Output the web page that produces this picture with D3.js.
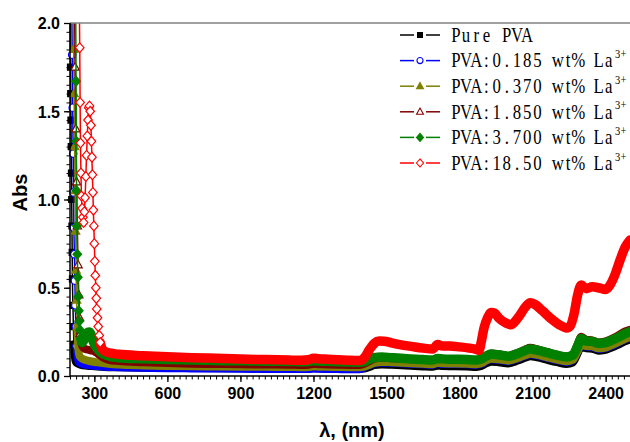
<!DOCTYPE html>
<html>
<head>
<meta charset="utf-8">
<script src="https://cdn.jsdelivr.net/npm/d3@7"></script>
<style>
  body { margin: 0; background: #fff; }
  svg { display: block; }
</style>
</head>
<body>
<svg id="chart" width="630" height="442"></svg>
<script>
// ---- Absorbance spectra of PVA films doped with La3+ ----

// Shared wavelength grid (nm) for the visible / NIR part of the lower spectra
const nirWl = [400, 500, 600, 700, 800, 900, 1000, 1100, 1150, 1180, 1200, 1220, 1260, 1300, 1350, 1390,
  1410, 1430, 1450, 1480, 1520, 1560, 1600, 1650, 1690, 1710, 1730, 1780, 1830, 1870, 1890, 1910,
  1930, 1960, 2000, 2040, 2070, 2090, 2120, 2160, 2200, 2240, 2265, 2285, 2300, 2320, 2345, 2370,
  2395, 2420, 2450, 2480, 2500];

// Pure PVA
const pureUvWl  = [200, 202, 203, 204, 205, 206, 207, 208, 209, 210, 212, 214, 216, 219, 223, 230, 245, 270, 300, 340];
const pureUvAbs = [2.2, 1.75, 1.6, 1.45, 1.3, 1.15, 1.0, 0.85, 0.7, 0.55, 0.4, 0.28, 0.18, 0.11, 0.08, 0.07, 0.062, 0.057, 0.054, 0.05];
const pureNirAbs = [0.048, 0.046, 0.045, 0.044, 0.043, 0.042, 0.041, 0.040, 0.040, 0.040, 0.043, 0.042, 0.041, 0.040, 0.039, 0.039,
  0.041, 0.050, 0.060, 0.064, 0.062, 0.059, 0.056, 0.053, 0.051, 0.057, 0.055, 0.054, 0.052, 0.050, 0.055, 0.070,
  0.080, 0.077, 0.070, 0.086, 0.102, 0.110, 0.104, 0.090, 0.077, 0.067, 0.075, 0.125, 0.165, 0.155, 0.153, 0.142,
  0.145, 0.157, 0.175, 0.195, 0.205];

// PVA : 0.185 wt% La3+
const la0185UvWl  = [207, 209, 211, 213, 214.5, 216, 218, 220, 222, 224, 227, 232, 240, 260, 300, 340];
const la0185UvAbs = [2.2, 1.82, 1.52, 1.26, 1.04, 0.84, 0.69, 0.54, 0.4, 0.28, 0.17, 0.1, 0.075, 0.065, 0.058, 0.053];
const la0185NirAbs = [0.050, 0.047, 0.044, 0.043, 0.042, 0.041, 0.040, 0.039, 0.039, 0.039, 0.042, 0.041, 0.040, 0.039, 0.038, 0.038,
  0.050, 0.061, 0.072, 0.077, 0.075, 0.072, 0.069, 0.066, 0.064, 0.071, 0.069, 0.068, 0.066, 0.064, 0.069, 0.085,
  0.095, 0.092, 0.084, 0.099, 0.115, 0.123, 0.117, 0.103, 0.090, 0.080, 0.089, 0.137, 0.177, 0.167, 0.165, 0.154,
  0.157, 0.169, 0.187, 0.207, 0.219];

// PVA : 0.370 wt% La3+
const la0370UvWl  = [213, 215, 217, 219, 221, 223, 225, 227, 230, 234, 240, 255, 280, 310, 350];
const la0370UvAbs = [2.2, 1.85, 1.6, 1.3, 1.05, 0.82, 0.6, 0.43, 0.28, 0.16, 0.11, 0.095, 0.085, 0.078, 0.07];
const la0370NirAbs = [0.065, 0.060, 0.057, 0.055, 0.054, 0.053, 0.052, 0.051, 0.050, 0.051, 0.054, 0.053, 0.052, 0.051, 0.050, 0.050,
  0.053, 0.064, 0.075, 0.080, 0.078, 0.075, 0.072, 0.069, 0.067, 0.074, 0.072, 0.071, 0.069, 0.067, 0.072, 0.088,
  0.098, 0.095, 0.087, 0.102, 0.118, 0.126, 0.120, 0.106, 0.093, 0.083, 0.092, 0.140, 0.180, 0.170, 0.168, 0.157,
  0.160, 0.172, 0.190, 0.210, 0.222];

// PVA : 1.850 wt% La3+
const la1850UvWl  = [218, 221, 224, 227, 230, 233, 236, 239, 242, 246, 252, 260, 270, 285, 300, 315, 335, 360];
const la1850UvAbs = [2.2, 1.75, 1.4, 1.1, 0.85, 0.63, 0.46, 0.33, 0.24, 0.19, 0.165, 0.155, 0.15, 0.145, 0.14, 0.125, 0.105, 0.092];
const la1850NirAbs = [0.085, 0.078, 0.073, 0.070, 0.068, 0.066, 0.065, 0.064, 0.063, 0.064, 0.068, 0.067, 0.065, 0.064, 0.063, 0.063,
  0.070, 0.085, 0.098, 0.104, 0.101, 0.098, 0.095, 0.092, 0.090, 0.100, 0.097, 0.095, 0.093, 0.091, 0.098, 0.116,
  0.128, 0.123, 0.114, 0.132, 0.150, 0.160, 0.151, 0.135, 0.120, 0.110, 0.122, 0.178, 0.222, 0.205, 0.202, 0.190,
  0.194, 0.207, 0.228, 0.252, 0.262];

// PVA : 3.700 wt% La3+
const la3700UvWl  = [223, 225, 226, 227, 228, 230, 232, 234, 236, 238, 241, 245, 250, 256, 263, 270, 278, 285, 292, 300, 310, 322, 340, 365];
const la3700UvAbs = [2.2, 1.67, 1.33, 1.05, 0.85, 0.69, 0.56, 0.45, 0.37, 0.31, 0.26, 0.21, 0.19, 0.2, 0.225, 0.245, 0.25, 0.24, 0.21, 0.18, 0.158, 0.14, 0.122, 0.11];
const la3700NirAbs = [0.104, 0.098, 0.093, 0.090, 0.088, 0.086, 0.084, 0.082, 0.081, 0.082, 0.086, 0.085, 0.083, 0.081, 0.079, 0.078,
  0.082, 0.094, 0.104, 0.108, 0.104, 0.100, 0.097, 0.093, 0.091, 0.099, 0.097, 0.095, 0.093, 0.091, 0.097, 0.113,
  0.124, 0.120, 0.112, 0.128, 0.145, 0.153, 0.146, 0.132, 0.118, 0.108, 0.118, 0.170, 0.212, 0.198, 0.196, 0.185,
  0.188, 0.200, 0.218, 0.240, 0.252];

// PVA : 18.50 wt% La3+
const la1850bWl = [236, 240, 241.5, 243, 245, 247, 250, 253, 256, 259, 262, 265, 268, 271, 274, 277, 280, 283, 286, 288,
  290, 292, 294, 296, 298, 300, 302, 304, 306, 308, 310, 313, 316, 320, 324, 330, 338, 350, 380, 400,
  500, 600, 700, 800, 900, 1000, 1100, 1150, 1180, 1200, 1220, 1260, 1300, 1350, 1390, 1410, 1430, 1450, 1470, 1490,
  1520, 1560, 1600, 1650, 1690, 1710, 1730, 1760, 1800, 1840, 1865, 1880, 1890, 1900, 1915, 1930, 1945, 1960, 1990, 2010,
  2040, 2070, 2090, 2110, 2140, 2180, 2210, 2240, 2255, 2270, 2285, 2300, 2320, 2345, 2370, 2400, 2420, 2440, 2460, 2480, 2500];
const la1850bAbs = [2.2, 1.86, 1.55, 1.32, 1.15, 1.02, 0.95, 0.9, 0.87, 0.93, 1.01, 1.13, 1.25, 1.36, 1.45, 1.52, 1.53, 1.50, 1.42, 1.33,
  1.24, 1.14, 1.04, 0.94, 0.85, 0.75, 0.65, 0.57, 0.50, 0.44, 0.38, 0.33, 0.28, 0.23, 0.19, 0.16, 0.145, 0.135, 0.127, 0.123,
  0.115, 0.109, 0.104, 0.100, 0.096, 0.093, 0.090, 0.089, 0.092, 0.101, 0.098, 0.095, 0.092, 0.089, 0.088, 0.105, 0.150, 0.185, 0.198, 0.197,
  0.188, 0.176, 0.168, 0.158, 0.153, 0.178, 0.170, 0.170, 0.165, 0.158, 0.152, 0.145, 0.200, 0.270, 0.330, 0.360, 0.355, 0.330, 0.300, 0.290,
  0.330, 0.390, 0.415, 0.405, 0.370, 0.320, 0.290, 0.272, 0.285, 0.350, 0.460, 0.515, 0.495, 0.505, 0.500, 0.490, 0.520, 0.580, 0.660, 0.730, 0.770];

// Axis ticks
const xMajorTicks = [300, 600, 900, 1200, 1500, 1800, 2100, 2400];
const yMajorTicks = [0.0, 0.5, 1.0, 1.5, 2.0];

// ---- series definitions (drawing order = legend order) ----
const series = [
  { label: "Pure PVA",          sup: "",   wl: pureUvWl.concat(nirWl),   abs: pureUvAbs.concat(pureNirAbs),   color: "#000000", marker: "square",   open: false, ribbonFrom: 216, ribbonW: 7.5 },
  { label: "PVA:0.185 wt% La",  sup: "3+", wl: la0185UvWl.concat(nirWl), abs: la0185UvAbs.concat(la0185NirAbs), color: "#0000FF", marker: "circle",   open: true,  ribbonFrom: 227, ribbonW: 8 },
  { label: "PVA:0.370 wt% La",  sup: "3+", wl: la0370UvWl.concat(nirWl), abs: la0370UvAbs.concat(la0370NirAbs), color: "#808000", marker: "triangle", open: false, ribbonFrom: 230, ribbonW: 8 },
  { label: "PVA:1.850 wt% La",  sup: "3+", wl: la1850UvWl.concat(nirWl), abs: la1850UvAbs.concat(la1850NirAbs), color: "#800000", marker: "triangle", open: true,  ribbonFrom: 242, ribbonW: 8 },
  { label: "PVA:3.700 wt% La",  sup: "3+", wl: la3700UvWl.concat(nirWl), abs: la3700UvAbs.concat(la3700NirAbs), color: "#008000", marker: "diamond",  open: false, ribbonFrom: 245, ribbonW: 9.5 },
  { label: "PVA:18.50 wt% La",  sup: "3+", wl: la1850bWl,                abs: la1850bAbs,                     color: "#FF0000", marker: "diamond",  open: true,  ribbonFrom: 324, ribbonW: 9.5 }
];

// ---- layout ----
const plot = { left: 70, right: 630, top: 23, bottom: 376 };
const x = d3.scaleLinear().domain([200, 2500]).range([plot.left, plot.right]);
const y = d3.scaleLinear().domain([0, 2]).range([plot.bottom, plot.top]);

const svg = d3.select("#chart");
svg.append("rect").attr("width", 630).attr("height", 442).attr("fill", "#fff");

svg.append("defs").append("clipPath").attr("id", "plotClip")
  .append("rect")
  .attr("x", 64).attr("y", plot.top)
  .attr("width", plot.right - 64).attr("height", plot.bottom - plot.top + 2);

// Marker shapes centred on the origin
function markerPath(type, k) {
  const s = k || 1;
  switch (type) {
    case "square":   { const h = 3 * s; return `M${-h},${-h}H${h}V${h}H${-h}Z`; }
    case "circle":   { const r = 3.7 * s; return `M${r},0A${r},${r} 0 1,1 ${-r},0A${r},${r} 0 1,1 ${r},0Z`; }
    case "triangle": { const w = 4.2 * s, t = 4.6 * s, b = 3.0 * s; return `M0,${-t}L${w},${b}L${-w},${b}Z`; }
    case "diamond":  { const w = 4.3 * s, h = 4.9 * s; return `M0,${-h}L${w},0L0,${h}L${-w},0Z`; }
  }
}

const line = d3.line()
  .x(d => x(d[0]))
  .y(d => y(d[1]))
  .curve(d3.curveMonotoneX);

const plotG = svg.append("g").attr("clip-path", "url(#plotClip)");

series.forEach(s => {
  const pts = s.wl.map((w, i) => [w, s.abs[i]]);
  const ribbonPts = pts.filter(p => p[0] >= s.ribbonFrom);
  const markerPts = pts.filter(p => p[0] <= s.ribbonFrom);
  const g = plotG.append("g");

  // densely overlapping markers form a solid band along the flat part
  g.append("path")
    .attr("d", line(ribbonPts))
    .attr("fill", "none")
    .attr("stroke", s.color)
    .attr("stroke-width", s.ribbonW)
    .attr("stroke-linejoin", "round")
    .attr("stroke-linecap", "round");

  g.append("path")
    .attr("d", line(pts))
    .attr("fill", "none")
    .attr("stroke", s.color)
    .attr("stroke-width", 1.5);

  g.selectAll("path.mk")
    .data(markerPts)
    .join("path")
    .attr("class", "mk")
    .attr("transform", d => `translate(${x(d[0])},${y(d[1])})`)
    .attr("d", markerPath(s.marker, 1))
    .attr("fill", s.open ? "#fff" : s.color)
    .attr("stroke", s.color)
    .attr("stroke-width", 1.2);
});

// ---- axes ----
const tickFont = "'Liberation Sans', Arial, sans-serif";

// x minor ticks
svg.append("g")
  .attr("transform", `translate(0,${plot.bottom})`)
  .call(d3.axisBottom(x).tickValues(d3.range(200, 2501, 25)).tickSize(3.5).tickFormat(""))
  .call(g => g.select(".domain").remove())
  .call(g => g.selectAll("line").attr("stroke-width", 1));

// x major ticks + labels
svg.append("g")
  .attr("transform", `translate(0,${plot.bottom})`)
  .call(d3.axisBottom(x).tickValues(xMajorTicks).tickSize(6).tickPadding(5.5).tickFormat(d3.format("d")))
  .call(g => g.select(".domain").remove())
  .call(g => g.selectAll("line").attr("stroke-width", 1.3))
  .call(g => g.selectAll("text")
    .attr("font-family", tickFont).attr("font-weight", "bold").attr("font-size", 16).attr("fill", "#000"));

// y minor ticks
svg.append("g")
  .attr("transform", `translate(${plot.left},0)`)
  .call(d3.axisLeft(y).tickValues(d3.range(0, 2.0001, 0.05)).tickSize(3.5).tickFormat(""))
  .call(g => g.select(".domain").remove())
  .call(g => g.selectAll("line").attr("stroke-width", 1));

// y major ticks + labels
svg.append("g")
  .attr("transform", `translate(${plot.left},0)`)
  .call(d3.axisLeft(y).tickValues(yMajorTicks).tickSize(6).tickPadding(4).tickFormat(d3.format(".1f")))
  .call(g => g.select(".domain").remove())
  .call(g => g.selectAll("line").attr("stroke-width", 1.3))
  .call(g => g.selectAll("text")
    .attr("font-family", tickFont).attr("font-weight", "bold").attr("font-size", 16).attr("fill", "#000")
    .attr("dy", "0.36em"));

// frame: grey top edge, black axis lines
svg.append("line")
  .attr("x1", plot.left).attr("x2", plot.right).attr("y1", plot.top).attr("y2", plot.top)
  .attr("stroke", "#808080").attr("stroke-width", 1.6);
svg.append("line")
  .attr("x1", plot.left).attr("x2", plot.right).attr("y1", plot.bottom).attr("y2", plot.bottom)
  .attr("stroke", "#000").attr("stroke-width", 1.5);
svg.append("line")
  .attr("x1", plot.left).attr("x2", plot.left).attr("y1", plot.top).attr("y2", plot.bottom + 0.75)
  .attr("stroke", "#000").attr("stroke-width", 1.5);

// axis titles
svg.append("text")
  .attr("transform", "translate(26.5,192.5) rotate(-90)")
  .attr("text-anchor", "middle")
  .attr("font-family", tickFont).attr("font-weight", "bold").attr("font-size", 20)
  .text("Abs");

svg.append("text")
  .attr("x", 352).attr("y", 437)
  .attr("text-anchor", "middle")
  .attr("font-family", tickFont).attr("font-weight", "bold").attr("font-size", 20)
  .text("λ, (nm)");

// ---- legend ----
// Serif text set on a fixed character pitch (half-width CJK-style Latin)
const legendFont = "'Liberation Serif', 'Times New Roman', serif";
const pitch = 10.2, squeeze = 0.84;
const legend = svg.append("g");
const rowY0 = 35, rowStep = 25.6;

series.forEach((s, i) => {
  const cy = rowY0 + i * rowStep;
  const row = legend.append("g");
  row.append("line").attr("x1", 400).attr("x2", 414).attr("y1", cy).attr("y2", cy)
    .attr("stroke", s.color).attr("stroke-width", 1.5);
  row.append("line").attr("x1", 426).attr("x2", 440).attr("y1", cy).attr("y2", cy)
    .attr("stroke", s.color).attr("stroke-width", 1.5);
  row.append("path")
    .attr("transform", `translate(420,${cy})`)
    .attr("d", markerPath(s.marker, 0.82))
    .attr("fill", s.open ? "#fff" : s.color)
    .attr("stroke", s.color)
    .attr("stroke-width", 1.1);

  const tg = row.append("g").attr("transform", `translate(450.7,${cy + 6.7}) scale(${squeeze},1)`);
  const chars = Array.from(s.label);
  tg.append("text")
    .attr("x", chars.map((c, k) => ((k + 0.5) * pitch / squeeze).toFixed(2)).join(" "))
    .attr("text-anchor", "middle")
    .attr("font-family", legendFont).attr("font-size", 20).attr("fill", "#000")
    .text(s.label);
  if (s.sup) {
    const sx = chars.length * pitch + 0.8;
    tg.append("text")
      .attr("x", [0, 1].map(k => ((sx + (k + 0.5) * 5.9) / squeeze).toFixed(2)).join(" "))
      .attr("y", -9.1)
      .attr("text-anchor", "middle")
      .attr("font-family", legendFont).attr("font-size", 12.5).attr("fill", "#000")
      .text(s.sup);
  }
});
</script>
</body>
</html>
